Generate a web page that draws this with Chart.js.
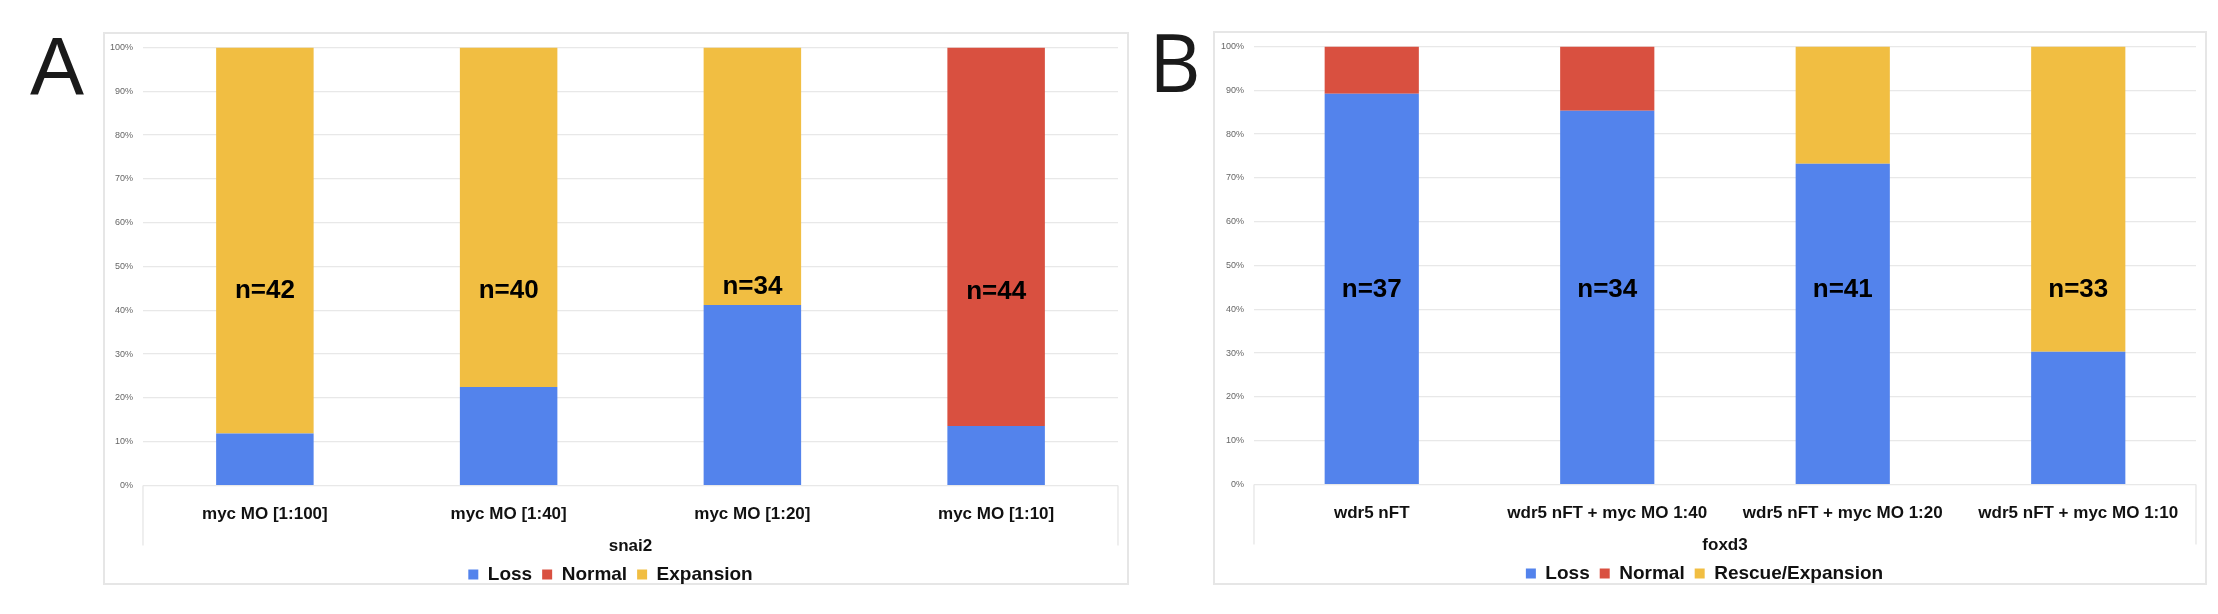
<!DOCTYPE html>
<html>
<head>
<meta charset="utf-8">
<script src="https://cdn.jsdelivr.net/npm/chart.js@4.4.0/dist/chart.umd.min.js"></script>
<style>
html,body{margin:0;padding:0;background:#fff;}
body{width:2218px;height:614px;position:relative;overflow:hidden;font-family:"Liberation Sans",Arial,sans-serif;}
.frame{position:absolute;border:2px solid #e6e6e6;box-sizing:border-box;}
.wrap{position:absolute;}
.letter{position:absolute;line-height:1;color:#1a1a1a;white-space:nowrap;}
#la{left:30px;top:26px;font-family:"Liberation Sans",Arial,sans-serif;font-size:81px;}
#lb{left:1149px;top:21px;font-family:"Open Sans",sans-serif;font-size:80px;}
</style>
</head>
<body>
<div class="letter" id="la">A</div>
<div class="letter" id="lb">B</div>
<div class="frame" style="left:103px;top:32px;width:1026px;height:553px"></div>
<div class="frame" style="left:1213px;top:31px;width:994px;height:554px"></div>
<div class="wrap" style="left:103px;top:32px;width:1026px;height:562px"><canvas id="chartA"></canvas></div>
<div class="wrap" style="left:1213px;top:31px;width:994px;height:562px"><canvas id="chartB"></canvas></div>
<script>
// ---- Data ----
const yTickLabels = ['0%','10%','20%','30%','40%','50%','60%','70%','80%','90%','100%'];

const categoriesA = ['myc MO [1:100]', 'myc MO [1:40]', 'myc MO [1:20]', 'myc MO [1:10]'];
const lossA      = [11.9, 22.5, 41.2, 13.6];
const normalA    = [0, 0, 0, 86.4];
const expansionA = [88.1, 77.5, 58.8, 0];
const nLabelsA   = ['n=42', 'n=40', 'n=34', 'n=44'];
const nLabelAtA  = [44.4, 44.4, 45.4, 44.3];
const axisTitleA = 'snai2';

const categoriesB = ['wdr5 nFT', 'wdr5 nFT + myc MO 1:40', 'wdr5 nFT + myc MO 1:20', 'wdr5 nFT + myc MO 1:10'];
const lossB      = [89.2, 85.3, 73.2, 30.3];
const normalB    = [10.8, 14.7, 0, 0];
const rescueB    = [0, 0, 26.8, 69.7];
const nLabelsB   = ['n=37', 'n=34', 'n=41', 'n=33'];
const nLabelAtB  = [44.4, 44.4, 44.4, 44.4];
const axisTitleB = 'foxd3';

// ---- Styles ----
const BLUE = '#5383EC', RED = '#D95040', YELLOW = '#F1BE42';
const FONT = '"Liberation Sans", Arial, sans-serif';
Chart.defaults.font.family = FONT;

const nLabelPlugin = {
  id: 'nLabels',
  afterDatasetsDraw(chart, args, opts) {
    const {ctx, scales: {x, y}} = chart;
    ctx.save();
    ctx.font = 'bold 26px ' + FONT;
    ctx.fillStyle = '#000';
    ctx.textAlign = 'center';
    ctx.textBaseline = 'middle';
    opts.labels.forEach((t, i) => {
      ctx.fillText(t, x.getPixelForValue(i), y.getPixelForValue(opts.at[i]));
    });
    ctx.restore();
  }
};

const axisBoxPlugin = {
  id: 'axisBox',
  afterDraw(chart) {
    const {ctx, chartArea: a} = chart;
    ctx.save();
    ctx.strokeStyle = '#e6e6e6';
    ctx.lineWidth = 1.3;
    ctx.beginPath();
    ctx.moveTo(a.left, a.bottom); ctx.lineTo(a.left, a.bottom + 60);
    ctx.moveTo(a.right, a.bottom); ctx.lineTo(a.right, a.bottom + 60);
    ctx.stroke();
    ctx.restore();
  }
};

function makeChart(id, cats, series, names, title, nLabels, nAt, yWidth) {
  const colors = [BLUE, RED, YELLOW];
  new Chart(document.getElementById(id), {
    type: 'bar',
    data: {
      labels: cats,
      datasets: series.map((s, i) => ({
        label: names[i],
        data: s,
        backgroundColor: colors[i],
        borderWidth: 0,
        barPercentage: 0.4,
        categoryPercentage: 1.0
      }))
    },
    options: {
      responsive: true,
      maintainAspectRatio: false,
      animation: false,
      events: [],
      layout: { padding: { top: 12, right: 11, left: 0, bottom: 0 } },
      scales: {
        x: {
          stacked: true,
          grid: { display: false },
          border: { display: false },
          ticks: { color: '#111', font: { size: 17, weight: 'bold' }, padding: 11, maxRotation: 0, autoSkip: false },
          title: { display: true, text: title, color: '#111', font: { size: 17, weight: 'bold', lineHeight: 1 }, padding: { top: 2, bottom: 0 } }
        },
        y: {
          stacked: true,
          min: 0, max: 100,
          ticks: { stepSize: 10, padding: 10, color: '#666', font: { size: 9 },
                   callback: (v, i) => yTickLabels[i] },
          grid: { color: '#e8e8e8', lineWidth: 1.3, drawTicks: false },
          border: { display: false },
          afterFit: (s) => { s.width = yWidth; }
        }
      },
      plugins: {
        legend: {
          position: 'bottom',
          labels: { boxWidth: 10, boxHeight: 10, padding: 10, color: '#111', font: { size: 19, weight: 'bold' } }
        },
        tooltip: { enabled: false },
        nLabels: { labels: nLabels, at: nAt }
      }
    },
    plugins: [nLabelPlugin, axisBoxPlugin]
  });
}

makeChart('chartA', categoriesA, [lossA, normalA, expansionA], ['Loss', 'Normal', 'Expansion'], axisTitleA, nLabelsA, nLabelAtA, 40);
makeChart('chartB', categoriesB, [lossB, normalB, rescueB], ['Loss', 'Normal', 'Rescue/Expansion'], axisTitleB, nLabelsB, nLabelAtB, 41);
</script>
</body>
</html>
